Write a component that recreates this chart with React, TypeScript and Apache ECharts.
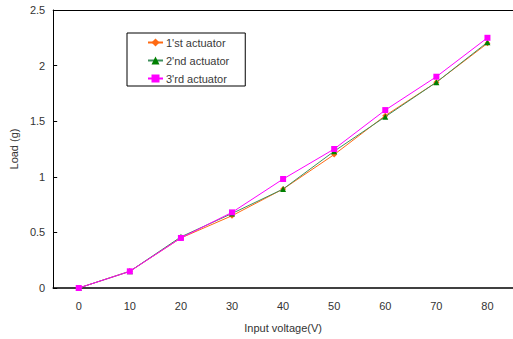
import React, { useEffect, useRef } from "react";
import * as echarts from "echarts";

const categories = ["0", "10", "20", "30", "40", "50", "60", "70", "80"];
const seriesNames = ["1'st actuator", "2'nd actuator", "3'rd actuator"];
const actuator1 = [0, 0.15, 0.45, 0.65, 0.89, 1.2, 1.55, 1.85, 2.2];
const actuator2 = [0, 0.15, 0.46, 0.67, 0.89, 1.23, 1.54, 1.85, 2.21];
const actuator3 = [0, 0.15, 0.45, 0.68, 0.98, 1.25, 1.6, 1.9, 2.25];

const FONT = "Liberation Sans";

export default function App() {
  const ref = useRef<HTMLDivElement>(null);
  useEffect(() => {
    document.body.style.margin = "0";
    const chart = echarts.init(ref.current!, null, { renderer: "svg" });
    const textStyle = { fontFamily: FONT, fontSize: 11, color: "#333" };
    chart.setOption({
      animation: false,
      backgroundColor: "#fff",
      grid: { left: 48, right: -1, top: 10, bottom: 51 },
      legend: {
        orient: "vertical",
        left: 127,
        top: 33,
        padding: [4, 16, 2, 20],
        itemGap: 7,
        itemWidth: 15,
        itemHeight: 10,
        borderColor: "#000",
        borderWidth: 1,
        borderRadius: 0,
        textStyle: { ...textStyle, color: "#3a3a3a", fontSize: 11, padding: [0, 0, 0, -2] },
        data: seriesNames,
      },
      xAxis: [
        {
          type: "category",
          data: categories,
          boundaryGap: true,
          name: "Input voltage(V)",
          nameLocation: "middle",
          nameGap: 34,
          nameTextStyle: textStyle,
          axisLine: { lineStyle: { color: "#000", width: 1.5 } },
          axisTick: { inside: true, length: 5, lineStyle: { color: "#000" } },
          axisLabel: { ...textStyle, margin: 12 },
          splitLine: { show: false },
        },
        {
          type: "category",
          data: categories,
          position: "top",
          axisLine: { show: true, onZero: false, lineStyle: { color: "#000", width: 1 } },
          axisTick: { show: false },
          axisLabel: { show: false },
        },
      ],
      yAxis: {
        type: "value",
        min: 0,
        max: 2.5,
        interval: 0.5,
        name: "Load (g)",
        nameLocation: "middle",
        nameGap: 28,
        nameTextStyle: textStyle,
        axisLine: { show: true, lineStyle: { color: "#000", width: 1 } },
        axisTick: { show: true, inside: true, length: 4, lineStyle: { color: "#000" } },
        axisLabel: { ...textStyle, margin: 8 },
        splitLine: { show: false },
      },
      series: [
        {
          name: seriesNames[0],
          type: "line",
          data: actuator1,
          symbol: "diamond",
          symbolSize: 6,
          lineStyle: { color: "#FF6A13", width: 1 },
          itemStyle: { color: "#FF6A13" },
          z: 2,
        },
        {
          name: seriesNames[1],
          type: "line",
          data: actuator2,
          symbol: "triangle",
          symbolSize: 6,
          lineStyle: { color: "#3f8f5c", width: 1 },
          itemStyle: { color: "#008000" },
          z: 3,
        },
        {
          name: seriesNames[2],
          type: "line",
          data: actuator3,
          symbol: "rect",
          symbolSize: 6,
          lineStyle: { color: "#FF00FF", width: 1 },
          itemStyle: { color: "#FF00FF" },
          z: 4,
        },
      ],
    });
    return () => chart.dispose();
  }, []);
  return (
    <div
      ref={ref}
      style={{ position: "fixed", left: 0, top: 0, width: 513, height: 339 }}
    />
  );
}
